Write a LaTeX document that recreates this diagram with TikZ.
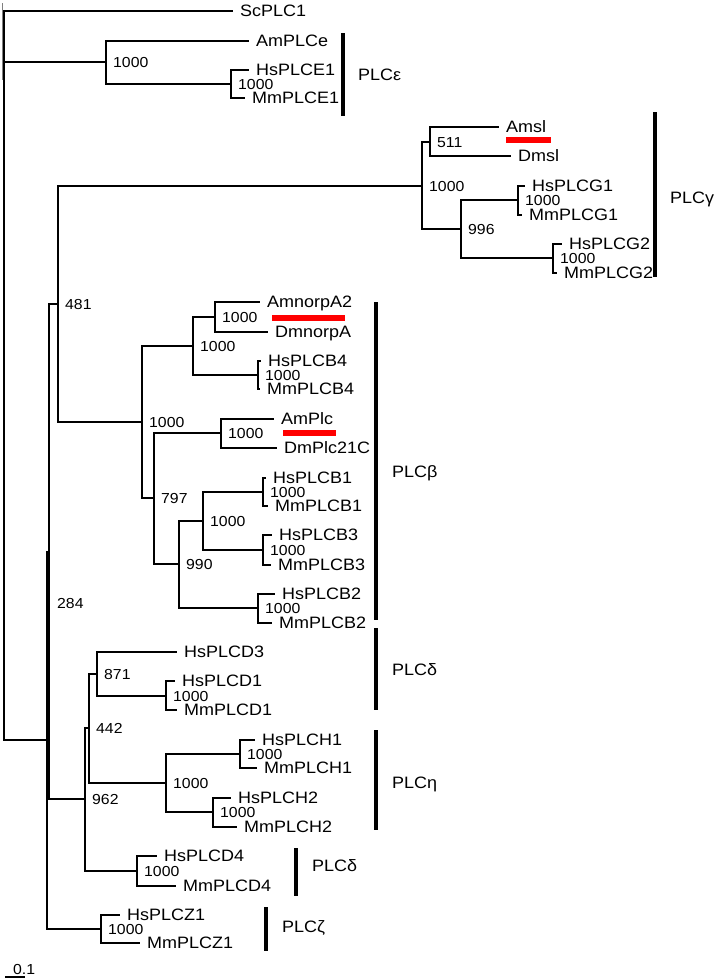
\documentclass[tikz,border=0pt]{standalone}
\usepackage{fontspec}
\setmainfont{Liberation Sans}
\newfontfamily\treefont[FakeStretch=1.09]{Liberation Sans}
\usepackage{tikz}
\tikzset{>=latex}
\tikzset{
    branch/.style={line width=1.1pt},
    leaf/.style={anchor=west, inner xsep=7pt, inner ysep=0pt, text height=11.8pt, text depth=0pt, font=\treefont\fontsize{16.5}{17}\selectfont},
    boot/.style={anchor=west, inner xsep=7pt, inner ysep=0pt, text height=10.4pt, text depth=0pt, font=\treefont\fontsize{14.5}{15}\selectfont},
    cladebar/.style={line width=4.5pt},
    cladename/.style={anchor=west, inner sep=0pt, text height=11.8pt, text depth=0pt, font=\treefont\fontsize{16.5}{17}\selectfont},
    redline/.style={red, line width=6pt}
}

\begin{document}
\begin{tikzpicture}[x=1pt, y=-1pt]
    \useasboundingbox (0, 0) rectangle (713, 980);
    % internal nodes, bootstrap values
    \node[boot] (root) at (4, 62) {};
    \node[boot] (nE) at (106, 62) {1000};
    \node[boot] (nE1) at (231, 84) {1000};
    \node[boot] (nA) at (47, 740) {};
    \node[boot] (n284) at (49, 551.5) {};
    \node[boot] (n481) at (58, 304) {481};
    \node[boot] (nG) at (422, 186) {1000};
    \node[boot] (n511) at (430, 142) {511};
    \node[boot] (n996) at (461, 229) {996};
    \node[boot] (nG1) at (518, 200) {1000};
    \node[boot] (nG2) at (553, 258) {1000};
    \node[boot] (nB) at (142, 422) {1000};
    \node[boot] (nB4a) at (193, 346) {1000};
    \node[boot] (nnorp) at (215, 317) {1000};
    \node[boot] (nB4) at (258, 375) {1000};
    \node[boot] (n797) at (154, 498) {797};
    \node[boot] (nPlc) at (221, 433) {1000};
    \node[boot] (n990) at (179, 564) {990};
    \node[boot] (nB13) at (203, 521) {1000};
    \node[boot] (nB1) at (263, 492) {1000};
    \node[boot] (nB3) at (263, 550) {1000};
    \node[boot] (nB2) at (258, 608) {1000};
    \node[boot] (n962) at (85, 799) {962};
    \node[boot] (n442) at (89, 728) {442};
    \node[boot] (n871) at (97, 674) {871};
    \node[boot] (nD1) at (166, 696) {1000};
    \node[boot] (nH) at (166, 783) {1000};
    \node[boot] (nH1) at (240, 754) {1000};
    \node[boot] (nH2) at (213, 812) {1000};
    \node[boot] (nD4) at (137, 871) {1000};
    \node[boot] (nZ) at (101, 929) {1000};
    \node[boot, inner xsep=0pt] (lab284) at (57, 603) {284};
    % leaves
    \node[leaf] (ScPLC1) at (233, 11) {ScPLC1};
    \node[leaf] (AmPLCe) at (249, 41) {AmPLCe};
    \node[leaf] (HsPLCE1) at (249, 70) {HsPLCE1};
    \node[leaf] (MmPLCE1) at (245, 98) {MmPLCE1};
    \node[leaf] (Amsl) at (499, 127) {Amsl};
    \node[leaf] (Dmsl) at (511, 156) {Dmsl};
    \node[leaf] (HsPLCG1) at (525, 186) {HsPLCG1};
    \node[leaf] (MmPLCG1) at (522, 215) {MmPLCG1};
    \node[leaf] (HsPLCG2) at (562, 244) {HsPLCG2};
    \node[leaf] (MmPLCG2) at (557, 273) {MmPLCG2};
    \node[leaf] (AmnorpA2) at (260, 302) {AmnorpA2};
    \node[leaf] (DmnorpA) at (268, 332) {DmnorpA};
    \node[leaf] (HsPLCB4) at (261, 361) {HsPLCB4};
    \node[leaf] (MmPLCB4) at (260, 389) {MmPLCB4};
    \node[leaf] (AmPlc) at (274, 419) {AmPlc};
    \node[leaf] (DmPlc21C) at (277, 448) {DmPlc21C};
    \node[leaf] (HsPLCB1) at (266, 478) {HsPLCB1};
    \node[leaf] (MmPLCB1) at (268, 506) {MmPLCB1};
    \node[leaf] (HsPLCB3) at (272, 535) {HsPLCB3};
    \node[leaf] (MmPLCB3) at (271, 565) {MmPLCB3};
    \node[leaf] (HsPLCB2) at (275, 594) {HsPLCB2};
    \node[leaf] (MmPLCB2) at (272, 623) {MmPLCB2};
    \node[leaf] (HsPLCD3) at (177, 652) {HsPLCD3};
    \node[leaf] (HsPLCD1) at (175, 681) {HsPLCD1};
    \node[leaf] (MmPLCD1) at (177, 710) {MmPLCD1};
    \node[leaf] (HsPLCH1) at (255, 740) {HsPLCH1};
    \node[leaf] (MmPLCH1) at (257, 768) {MmPLCH1};
    \node[leaf] (HsPLCH2) at (231, 798) {HsPLCH2};
    \node[leaf] (MmPLCH2) at (237, 827) {MmPLCH2};
    \node[leaf] (HsPLCD4) at (157, 856) {HsPLCD4};
    \node[leaf] (MmPLCD4) at (176, 886) {MmPLCD4};
    \node[leaf] (HsPLCZ1) at (120, 915) {HsPLCZ1};
    \node[leaf] (MmPLCZ1) at (140, 943) {MmPLCZ1};
    % branches
    \foreach \a/\b in {root/ScPLC1, root/nE, root/nA, nE/AmPLCe, nE/nE1, nE1/HsPLCE1, nE1/MmPLCE1,
        nA/n284, nA/nZ, n284/n481, n284/n962, n481/nG, n481/nB,
        nG/n511, nG/n996, n511/Amsl, n511/Dmsl, n996/nG1, n996/nG2,
        nG1/HsPLCG1, nG1/MmPLCG1, nG2/HsPLCG2, nG2/MmPLCG2,
        nB/nB4a, nB/n797, nB4a/nnorp, nB4a/nB4, nnorp/AmnorpA2, nnorp/DmnorpA,
        nB4/HsPLCB4, nB4/MmPLCB4, n797/nPlc, n797/n990, nPlc/AmPlc, nPlc/DmPlc21C,
        n990/nB13, n990/nB2, nB13/nB1, nB13/nB3, nB1/HsPLCB1, nB1/MmPLCB1,
        nB3/HsPLCB3, nB3/MmPLCB3, nB2/HsPLCB2, nB2/MmPLCB2,
        n962/n442, n962/nD4, n442/n871, n442/nH, n871/HsPLCD3, n871/nD1,
        nD1/HsPLCD1, nD1/MmPLCD1, nH/nH1, nH/nH2, nH1/HsPLCH1, nH1/MmPLCH1,
        nH2/HsPLCH2, nH2/MmPLCH2, nD4/HsPLCD4, nD4/MmPLCD4, nZ/HsPLCZ1, nZ/MmPLCZ1}
        \draw[branch] (\a.west) |- (\b.west);
    \draw[gray, line width=1pt] (2, 3) -- (2, 80);
    % red marks
    \draw[redline] (506, 140) -- (551, 140);
    \draw[redline] (272, 318) -- (345, 318);
    \draw[redline] (283, 433) -- (336, 433);
    % subfamilies
    \draw[cladebar] (343, 33) -- (343, 116);
    \node[cladename] (epsilon) at (358, 75) {PLCε};
    \draw[cladebar] (655, 112) -- (655, 277);
    \node[cladename] (gamma) at (670, 198) {PLCγ};
    \draw[cladebar] (376, 302) -- (376, 620);
    \node[cladename] (beta) at (392, 472) {PLCβ};
    \draw[cladebar] (376, 628) -- (376, 710);
    \node[cladename] (delta) at (392, 670) {PLCδ};
    \draw[cladebar] (376, 730) -- (376, 830);
    \node[cladename] (eta) at (392, 783) {PLCη};
    \draw[cladebar] (296, 848) -- (296, 896);
    \node[cladename] (deltaB) at (312, 866) {PLCδ};
    \draw[cladebar] (266, 907) -- (266, 951);
    \node[cladename] (zeta) at (282, 927) {PLCζ};
    % scale
    \draw[branch] (5, 977) -- (25, 977);
    \node[boot, inner xsep=0pt] (scale) at (13, 969) {0.1};
\end{tikzpicture}
\end{document}
